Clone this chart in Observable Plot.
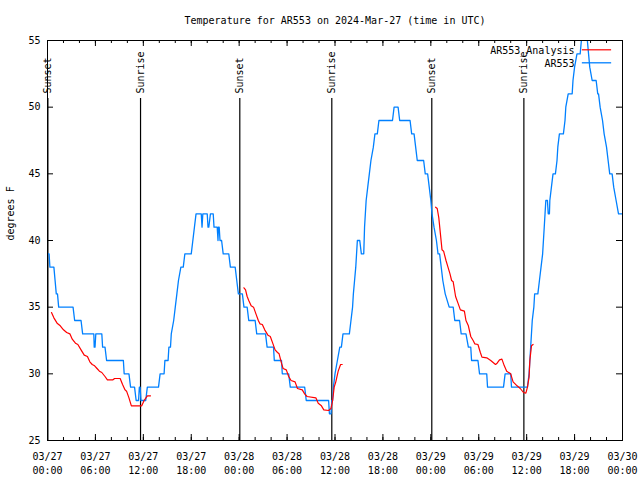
<!DOCTYPE html>
<html><head><meta charset="utf-8">
<script src="https://cdn.jsdelivr.net/npm/d3@7"></script>
<script src="https://cdn.jsdelivr.net/npm/@observablehq/plot@0.6"></script>
<style>body{margin:0;background:#fff}</style>
</head><body><div id="chart"></div>
<script>
const titleText = "Temperature for AR553 on 2024-Mar-27 (time in UTC)";
const yLabel = "degrees F";
const seriesNames = ["AR553_Analysis", "AR553"];
const startUTC = Date.UTC(2024, 2, 27);
const yTicks = [25, 30, 35, 40, 45, 50, 55];

// Observed (blue): hours since 03/27 00:00 UTC and temperature
const blueHours = [0.0,0.2,0.3,0.8,0.95,1.1,1.25,1.4,3.2,3.4,4.2,4.4,5.8,5.85,5.95,6.05,6.8,6.9,7.2,7.4,9.5,9.6,10.2,10.4,10.9,11.1,11.4,11.5,11.6,11.7,12.3,12.5,13.9,14.1,14.6,14.7,15.1,15.2,15.4,15.5,15.8,16.0,16.2,16.4,16.7,17.0,17.2,18.0,18.2,18.4,18.6,19.25,19.35,19.45,20.0,20.1,20.2,20.4,20.75,20.85,21.25,21.35,21.4,21.5,21.6,21.8,22.0,22.7,22.9,23.5,23.7,23.9,24.4,24.6,25.0,25.2,26.0,26.2,27.3,27.5,28.3,28.4,29.3,29.4,30.2,30.4,32.2,32.4,35.2,35.3,35.5,35.6,35.7,35.8,36.0,36.3,36.6,36.8,37.0,37.8,38.0,38.2,38.3,38.45,38.6,38.7,38.8,39.1,39.3,39.6,39.7,39.9,40.1,40.3,40.5,40.8,41.0,41.3,41.5,43.2,43.4,43.9,44.1,45.4,45.6,45.9,46.1,46.3,47.1,47.3,47.6,47.8,48.0,48.15,48.4,48.7,48.9,49.1,49.3,49.5,49.8,50.3,50.8,51.0,51.6,51.8,52.4,52.7,53.0,53.1,53.9,54.1,55.0,55.1,57.1,57.3,58.0,58.1,60.1,60.3,60.4,60.5,60.6,60.7,60.9,61.0,61.4,61.6,61.8,62.0,62.2,62.3,62.4,62.6,62.7,62.85,62.9,63.1,63.3,63.6,63.8,63.9,64.1,64.6,64.8,64.9,65.2,65.7,65.8,66.0,66.3,66.5,66.7,66.85,67.0,67.45,67.6,67.75,67.9,68.2,68.7,68.9,69.0,69.2,69.5,69.7,70.0,70.2,70.4,70.7,70.9,71.2,71.5,72.0];
const blueTemps = [39,39,38,38,37,36,36,35,35,34,34,33,33,32,32,33,33,32,32,31,31,30,30,29,29,28,28,29,29,28,28,29,29,30,30,31,31,32,32,33,34,35,36,37,38,38,39,39,40,41,42,42,41,42,42,41,41,42,42,41,41,40,41,41,40,40,39,39,38,38,37,36,36,35,35,34,34,33,33,32,32,31,31,30,30,29,29,28,28,27,27,28,28,29,30,31,32,32,33,33,34,35,36,37,38,39,40,40,39,39,41,43,44,45,46,47,48,48,49,49,50,50,49,49,48,48,47,46,46,45,45,44,43,42,41,40,39,39,38,37,36,35,35,34,34,33,33,32,32,31,31,30,30,29,29,30,30,29,29,30,31,32,33,34,35,36,36,37,38,39,41,42,43,43,42,42,43,44,45,45,46,47,48,48,49,50,51,51,52,53,54,54,54,55,56,56,55,54,53,52,52,51,51,50,49,48,47,46,45,45,44,43,42,42];

// Analysis (red), three overnight segments
const red1Hours = [0.5,0.8,1.2,1.6,2.0,2.4,2.8,3.1,3.5,3.8,4.2,4.6,5.0,5.3,5.6,5.9,6.2,6.5,6.8,7.2,7.5,8.2,8.4,9.1,9.4,9.7,9.9,10.2,10.5,11.8,12.1,12.5,12.9];
const red1Temps = [34.6,34.2,33.8,33.6,33.3,33.1,33.0,32.6,32.3,32.2,31.8,31.4,31.3,30.9,30.7,30.6,30.4,30.2,30.1,29.8,29.55,29.55,29.65,29.65,29.2,28.8,28.7,28.2,27.6,27.6,28.0,28.35,28.35];
const red2Hours = [24.6,24.8,25.0,25.2,25.5,25.8,26.1,26.4,26.6,26.9,27.2,27.6,27.9,28.2,28.5,28.8,29.0,29.3,29.5,29.9,30.2,30.5,31.0,31.3,31.9,32.2,32.5,33.6,33.9,34.3,34.6,35.2,35.5,35.7,35.9,36.1,36.4,36.7,36.9];
const red2Temps = [36.45,36.3,35.8,35.5,35.1,35.0,34.5,34.0,33.75,33.7,33.3,32.9,32.8,32.3,31.8,31.6,31.5,30.8,30.4,30.3,29.8,29.5,29.4,28.9,28.8,28.5,28.3,28.2,27.8,27.6,27.3,27.25,27.4,28.0,29.0,29.4,30.2,30.7,30.7];
const red3Hours = [48.6,48.8,49.0,49.2,49.4,49.6,49.9,50.1,50.4,50.6,50.8,51.1,51.4,51.7,52.2,52.4,52.7,53.0,53.3,53.5,53.9,54.2,54.4,55.0,55.5,56.1,56.3,56.6,56.9,57.2,57.5,58.0,58.3,58.8,59.2,59.6,59.9,60.1,60.3,60.4,60.6,60.8];
const red3Temps = [42.5,42.4,41.7,40.5,39.3,39.2,38.5,38.1,37.5,37.0,36.9,35.8,35.3,34.8,34.7,34.0,33.6,32.8,32.5,32.25,32.2,31.6,31.25,31.2,31.0,30.7,30.8,31.05,31.1,30.6,30.2,30.0,29.4,29.1,28.9,28.6,28.55,29.0,29.75,31.0,32.1,32.2];

// Sun events (hours since 03/27 00:00 UTC)
const sunEventHours = [0.05, 11.65, 24.08, 35.6, 48.12, 59.65];
const sunEventNames = ["Sunset", "Sunrise", "Sunset", "Sunrise", "Sunset", "Sunrise"];

const toDate = h => new Date(startUTC + h * 3600000);
const blue = blueHours.map((h, i) => ({date: toDate(h), temp: blueTemps[i]}));
const red = [[red1Hours, red1Temps], [red2Hours, red2Temps], [red3Hours, red3Temps]]
  .flatMap(([hs, ts], k) => hs.map((h, i) => ({date: toDate(h), temp: ts[i], seg: k})));
const majorTicks = d3.utcHour.every(6).range(toDate(0), toDate(72.01));
const minorTicks = d3.utcHour.every(2).range(toDate(0), toDate(72.01));

const W = 640, H = 480, mL = 47, mR = 18, mT = 40, mB = 40;
const fw = W - mL - mR, fh = H - mT - mB;
const fmtD = d3.utcFormat("%m/%d"), fmtT = d3.utcFormat("%H:%M");
const blueColor = "#0080ff";

const chart = Plot.plot({
  width: W, height: H,
  marginLeft: mL, marginRight: mR, marginTop: mT, marginBottom: mB,
  style: {fontFamily: "'DejaVu Sans Mono', monospace", fontSize: "10px", background: "white", color: "black"},
  x: {type: "utc", domain: [toDate(0), toDate(72)]},
  y: {domain: [25, 55]},
  marks: [
    Plot.axisX(majorTicks, {tickSize: 0, tickPadding: 10, label: null, lineHeight: 1.4,
      tickFormat: d => fmtD(d) + "\n" + fmtT(d)}),
    Plot.axisY(yTicks, {tickSize: 0, tickPadding: 7, label: null}),
    Plot.tickX(minorTicks, {x: d => d, insetTop: fh - 3}),
    Plot.tickX(minorTicks, {x: d => d, insetBottom: fh - 3}),
    Plot.tickX(majorTicks, {x: d => d, insetTop: fh - 6}),
    Plot.tickX(majorTicks, {x: d => d, insetBottom: fh - 6}),
    Plot.tickY(yTicks, {y: d => d, insetRight: fw - 6}),
    Plot.tickY(yTicks, {y: d => d, insetLeft: fw - 6}),
    Plot.ruleX(sunEventHours, {x: d => toDate(d), insetTop: 58, stroke: "black", strokeWidth: 1.2}),
    Plot.text(sunEventHours, {x: d => toDate(d), text: (d, i) => sunEventNames[i], frameAnchor: "top",
      dy: 53, rotate: -90, textAnchor: "start", lineAnchor: "middle"}),
    Plot.line(blue, {x: "date", y: "temp", stroke: blueColor, strokeWidth: 1.3, clip: true}),
    Plot.line(red, {x: "date", y: "temp", z: "seg", stroke: "red", strokeWidth: 1.2}),
    Plot.text([seriesNames[0]], {text: d => d, frameAnchor: "top-right", dx: -48, dy: 10, textAnchor: "end", lineAnchor: "middle"}),
    Plot.text([seriesNames[1]], {text: d => d, frameAnchor: "top-right", dx: -48, dy: 23, textAnchor: "end", lineAnchor: "middle"}),
    Plot.frame({anchor: "top", insetTop: 9.3, insetLeft: 535, insetRight: 12, stroke: "red", strokeWidth: 1.2}),
    Plot.frame({anchor: "top", insetTop: 22.3, insetLeft: 535, insetRight: 12, stroke: blueColor, strokeWidth: 1.3}),
    Plot.frame({stroke: "black", strokeWidth: 1}),
    Plot.text([titleText], {text: d => d, frameAnchor: "top", dy: -20, lineAnchor: "middle"}),
    Plot.text([yLabel], {text: d => d, frameAnchor: "left", dx: -37, rotate: -90, lineAnchor: "middle"})
  ]
});
document.getElementById("chart").appendChild(chart);
</script>
</body></html>
